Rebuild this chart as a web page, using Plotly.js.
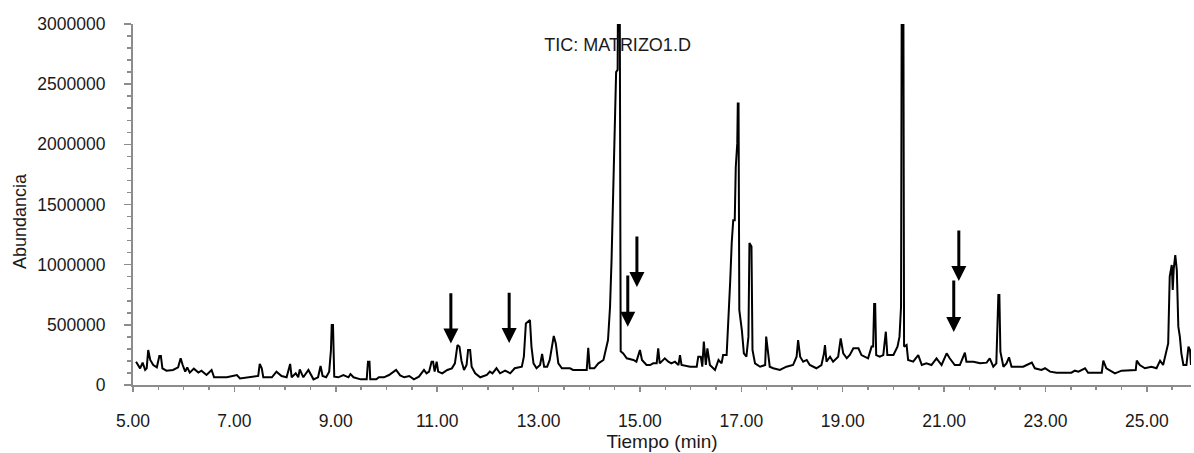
<!DOCTYPE html>
<html>
<head>
<meta charset="utf-8">
<script src="https://cdn.plot.ly/plotly-3.0.1.min.js"></script>
<style>html,body{margin:0;padding:0;background:#fff;}#chart{width:1194px;height:453px;}</style>
</head>
<body>
<div id="chart"></div>
<script>
// Retention time (min)
const times = [
5.06,5.14,5.19,5.24,5.27,5.30,5.34,5.40,5.47,5.52,5.55,5.58,5.66,5.79,5.89,5.94,5.98,6.03,6.07,6.12,
6.20,6.29,6.35,6.45,6.55,6.60,6.85,7.05,7.11,7.37,7.47,7.50,7.54,7.57,7.74,7.83,7.93,8.03,8.10,8.13,
8.21,8.26,8.29,8.36,8.46,8.56,8.65,8.70,8.74,8.81,8.87,8.905,8.92,8.945,8.97,9.05,9.15,9.25,9.29,9.35,
9.49,9.61,9.635,9.665,9.68,9.80,9.85,9.95,10.05,10.19,10.27,10.35,10.45,10.54,10.64,10.74,10.79,10.84,10.89,10.92,
10.95,10.99,11.02,11.10,11.20,11.29,11.35,11.40,11.44,11.48,11.53,11.58,11.61,11.65,11.68,11.75,11.85,11.98,12.04,12.09,
12.17,12.24,12.34,12.44,12.53,12.67,12.71,12.75,12.83,12.86,12.90,12.96,13.03,13.07,13.11,13.17,13.22,13.30,13.34,13.39,
13.46,13.62,13.68,13.95,13.98,14.01,14.10,14.18,14.28,14.37,14.41,14.44,14.48,14.53,14.56,14.57,14.60,14.62,14.67,14.74,
14.87,14.93,15.00,15.04,15.13,15.20,15.26,15.33,15.36,15.39,15.49,15.56,15.62,15.69,15.76,15.79,15.82,15.99,16.12,16.15,
16.20,16.23,16.26,16.30,16.33,16.38,16.48,16.55,16.61,16.64,16.71,16.74,16.78,16.81,16.84,16.87,16.89,16.92,16.93,16.945,
16.96,17.01,17.05,17.10,17.14,17.16,17.20,17.22,17.27,17.37,17.47,17.49,17.53,17.56,17.63,17.76,17.89,18.02,18.09,18.12,
18.16,18.22,18.29,18.35,18.48,18.58,18.63,18.65,18.68,18.75,18.81,18.91,18.96,19.01,19.08,19.14,19.21,19.31,19.37,19.50,
19.57,19.60,19.62,19.64,19.66,19.73,19.80,19.85,19.88,20.00,20.08,20.12,20.15,20.165,20.195,20.21,20.26,20.29,20.39,20.49,
20.56,20.65,20.75,20.85,20.95,21.05,21.11,21.21,21.31,21.41,21.44,21.58,21.71,21.84,21.90,21.97,22.03,22.05,22.07,22.09,
22.11,22.17,22.23,22.28,22.33,22.43,22.56,22.63,22.73,22.79,22.92,22.99,23.09,23.22,23.51,23.58,23.65,23.78,23.84,24.11,
24.14,24.20,24.27,24.37,24.50,24.66,24.78,24.80,24.86,24.96,25.09,25.19,25.26,25.32,25.39,25.42,25.45,25.49,25.51,25.53,
25.56,25.59,25.62,25.65,25.68,25.72,25.78,25.82,25.85,25.87
];
// Abundance (counts)
const abundance = [
194000,138000,186000,125000,138000,291000,208000,166000,147000,241000,241000,138000,119000,125000,147000,222000,166000,111000,147000,103000,
136000,103000,119000,83000,125000,64000,64000,83000,55000,69000,75000,175000,138000,64000,64000,111000,75000,64000,175000,64000,
97000,64000,130000,64000,125000,47000,64000,158000,75000,64000,111000,291000,499000,499000,69000,64000,83000,64000,91000,64000,
47000,47000,194000,194000,47000,47000,64000,64000,83000,125000,80000,64000,75000,47000,69000,125000,97000,111000,194000,194000,
111000,194000,111000,97000,125000,138000,180000,332000,318000,200000,125000,166000,291000,291000,152000,97000,64000,83000,111000,97000,
139000,97000,119000,97000,139000,152000,235000,512000,540000,319000,180000,139000,166000,258000,152000,152000,208000,407000,346000,180000,
139000,139000,125000,125000,310000,139000,139000,180000,208000,374000,650000,1040000,1760000,2600000,2620000,3500000,3500000,280000,263000,222000,
208000,194000,291000,208000,166000,166000,180000,180000,305000,180000,222000,194000,180000,194000,166000,249000,166000,152000,152000,235000,
235000,152000,360000,166000,305000,166000,125000,208000,180000,249000,249000,485000,858000,1180000,1370000,1370000,1810000,2010000,2340000,2340000,
623000,457000,263000,235000,402000,1180000,1150000,291000,180000,152000,166000,402000,263000,152000,139000,125000,152000,166000,235000,374000,
235000,194000,208000,166000,139000,166000,263000,332000,194000,235000,194000,235000,388000,263000,222000,249000,305000,305000,249000,222000,
319000,319000,673000,673000,249000,235000,249000,443000,249000,249000,319000,402000,650000,3500000,3500000,319000,332000,208000,194000,249000,
166000,180000,166000,222000,166000,263000,222000,166000,166000,268000,194000,194000,180000,186000,222000,152000,180000,485000,748000,748000,
277000,152000,180000,230000,152000,152000,152000,166000,186000,139000,125000,139000,111000,102000,102000,119000,111000,139000,102000,102000,
202000,139000,119000,97000,119000,125000,125000,202000,166000,139000,152000,139000,202000,166000,291000,346000,900000,997000,790000,970000,
1080000,955000,485000,402000,263000,166000,166000,319000,291000,166000
];
// Axis ticks
const xTickVals = [5, 7, 9, 11, 13, 15, 17, 19, 21, 23, 25];
const xTickText = ['5.00','7.00','9.00','11.00','13.00','15.00','17.00','19.00','21.00','23.00','25.00'];
const yTickVals = [0, 500000, 1000000, 1500000, 2000000, 2500000, 3000000];
const yTickText = ['0','500000','1000000','1500000','2000000','2500000','3000000'];
// Marked peaks (arrows): time, arrow tip abundance, arrow tail abundance
const arrowTimes = [11.27, 12.42, 14.76, 14.94, 21.19, 21.29];
const arrowTips  = [345000, 350000, 485000, 815000, 440000, 865000];
const arrowTails = [775000, 780000, 922000, 1246000, 881000, 1296000];

const FONT = '"Liberation Sans", Arial, sans-serif';
const AX = '#8c8c8c';
const TXT = '#1a1a1a';

const trace = {
  x: times, y: abundance, type: 'scatter', mode: 'lines',
  line: {color: '#000000', width: 2}, hoverinfo: 'skip'
};

const arrows = arrowTimes.map((t, i) => ({
  x: t, y: arrowTips[i], ax: t, ay: arrowTails[i],
  xref: 'x', yref: 'y', axref: 'x', ayref: 'y',
  text: '', showarrow: true, arrowhead: 2, arrowsize: 1, arrowwidth: 3,
  arrowcolor: '#000000', standoff: 0
}));

arrows.push({
  xref: 'paper', yref: 'paper', x: -0.1068, y: 0.454,
  xanchor: 'center', yanchor: 'middle', textangle: -90,
  text: 'Abundancia', showarrow: false,
  font: {family: FONT, size: 18, color: TXT}
});

const layout = {
  width: 1194, height: 453,
  margin: {l: 133, r: 3, t: 24, b: 68, pad: 0},
  paper_bgcolor: '#ffffff', plot_bgcolor: '#ffffff',
  showlegend: false,
  font: {family: FONT, size: 17.5, color: TXT},
  title: {
    text: 'TIC: MATRIZO1.D', xref: 'paper', x: 0.458, xanchor: 'center',
    yref: 'container', y: 1 - 45 / 453, yanchor: 'middle',
    font: {family: FONT, size: 18, color: TXT}
  },
  xaxis: {
    range: [5, 25.87], tickmode: 'array', tickvals: xTickVals, ticktext: xTickText,
    ticks: 'outside', ticklen: 5, tickwidth: 1.5, tickcolor: AX,
    showline: true, linecolor: AX, linewidth: 2, showgrid: false, zeroline: false,
    ticklabelstandoff: 14,
    tickfont: {family: FONT, size: 17.5, color: TXT},
    minor: {tickmode: 'linear', tick0: 5, dtick: 0.5, ticks: 'outside', ticklen: 3, tickwidth: 1.5, tickcolor: AX, showgrid: false},
    title: {text: 'Tiempo (min)', standoff: 2, font: {family: FONT, size: 19, color: TXT}},
    fixedrange: true
  },
  yaxis: {
    range: [0, 3000000], tickmode: 'array', tickvals: yTickVals, ticktext: yTickText,
    ticks: 'outside', ticklen: 7, tickwidth: 1.5, tickcolor: AX,
    showline: true, linecolor: AX, linewidth: 2, showgrid: false, zeroline: false,
    ticklabelstandoff: 15,
    tickfont: {family: FONT, size: 17.5, color: TXT},
    minor: {tickmode: 'linear', tick0: 0, dtick: 100000, ticks: 'outside', ticklen: 4, tickwidth: 1.5, tickcolor: AX, showgrid: false},
    fixedrange: true
  },
  annotations: arrows
};

Plotly.newPlot('chart', [trace], layout, {displayModeBar: false, staticPlot: true});
</script>
</body>
</html>
